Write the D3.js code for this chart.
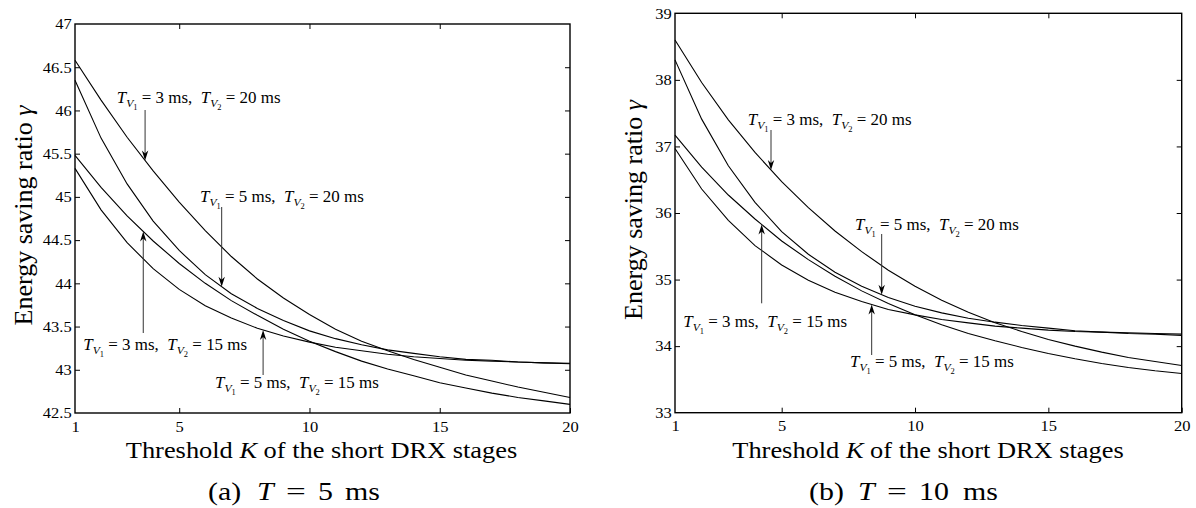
<!DOCTYPE html>
<html><head><meta charset="utf-8">
<script src="https://cdn.jsdelivr.net/npm/d3@7"></script>
<style>
html,body{margin:0;padding:0;background:#fff;}
svg{display:block;}
text{white-space:pre;}
</style></head><body>
<svg id="c" width="1196" height="508"></svg>
<script>
// ---------- data ----------
const K = [1,2,3,4,5,6,7,8,9,10,11,12,13,14,15,16,17,18,19,20];
const xTicks = [1,5,10,15,20];
const yTicksA = [42.5,43,43.5,44,44.5,45,45.5,46,46.5,47];
const yTicksB = [33,34,35,36,37,38,39];

// (a) T = 5 ms
const a_T3_20 = [46.58,46.12,45.69,45.30,44.94,44.61,44.31,44.05,43.83,43.64,43.47,43.33,43.22,43.12,43.03,42.94,42.87,42.80,42.74,42.68];
const a_T5_20 = [46.35,45.68,45.15,44.72,44.38,44.10,43.88,43.71,43.57,43.45,43.36,43.29,43.23,43.19,43.15,43.12,43.11,43.09,43.08,43.07];
const a_T3_15 = [45.48,45.11,44.78,44.49,44.23,44.00,43.80,43.63,43.47,43.33,43.21,43.10,43.01,42.93,42.85,42.79,42.73,42.68,42.64,42.60];
const a_T5_15 = [45.33,44.85,44.47,44.17,43.93,43.74,43.60,43.48,43.39,43.32,43.26,43.22,43.18,43.15,43.13,43.11,43.10,43.09,43.08,43.075];

// (b) T = 10 ms
const b_T3_20 = [38.60,37.96,37.40,36.91,36.47,36.08,35.73,35.42,35.14,34.90,34.69,34.51,34.35,34.22,34.10,34.00,33.91,33.83,33.77,33.71];
const b_T5_20 = [38.30,37.41,36.71,36.16,35.72,35.38,35.11,34.90,34.73,34.60,34.50,34.42,34.36,34.31,34.27,34.23,34.21,34.19,34.18,34.16];
const b_T3_15 = [37.17,36.69,36.27,35.91,35.58,35.30,35.05,34.83,34.64,34.47,34.32,34.19,34.08,33.98,33.89,33.81,33.74,33.68,33.63,33.59];
const b_T5_15 = [36.97,36.36,35.89,35.51,35.22,34.99,34.81,34.67,34.55,34.47,34.40,34.35,34.30,34.27,34.24,34.22,34.21,34.20,34.19,34.18];

const xLabelPre = "Threshold ", xLabelVar = "K", xLabelPost = " of the short DRX stages";
const yLabelText = "Energy saving ratio ", yLabelVar = "γ";
const captionA = ["(a)", "T", "=", "5", "ms"];
const captionB = ["(b)", "T", "=", "10", "ms"];

// ---------- drawing ----------
const SERIF = "'Liberation Serif','Times New Roman',serif";
const SX = 1.1;
const svg = d3.select('#c');

function interp(series, k){
  const i = Math.min(Math.floor(k)-1, series.length-2);
  const f = k - K[i];
  return series[i] + (series[i+1]-series[i])*f;
}

function annotation(g, x, y, v1, v2){
  const t = g.append('text')
    .attr('transform', `translate(${x},${y}) scale(1.06,1)`)
    .attr('font-family', SERIF).attr('font-size', 16).attr('fill','#000');
  const tv = (sub) => {
    t.append('tspan').attr('font-style','italic').text('T');
    t.append('tspan').attr('font-style','italic').attr('font-size',11).attr('dy',4).text('V');
    t.append('tspan').attr('font-size',8).attr('dy',3).text(sub);
  };
  tv('1');
  t.append('tspan').attr('dy',-7).text(` = ${v1} ms,  `);
  tv('2');
  t.append('tspan').attr('dy',-7).text(` = ${v2} ms`);
}

function arrow(g, x, y0, yTip){
  const down = yTip > y0;
  const s = down ? 1 : -1;
  g.append('line').attr('x1',x).attr('x2',x).attr('y1',y0).attr('y2',yTip - s*6)
    .attr('stroke','#333').attr('stroke-width',1);
  g.append('path')
    .attr('d', `M${x},${yTip} L${x-3.2},${yTip - s*10} L${x},${yTip - s*7} L${x+3.2},${yTip - s*10} Z`)
    .attr('fill','#000');
}

function chart(opt){
  const {left,right,top,bottom,yDomain,yTicks,series,annots,xLabelX,yLabelX,yLabelY,caption,capX} = opt;
  const x = d3.scaleLinear().domain([1,20]).range([left,right]);
  const y = d3.scaleLinear().domain(yDomain).range([bottom,top]);
  const g = svg.append('g');

  const styleAxis = (ax) => {
    ax.select('.domain').remove();
    ax.attr('font-family', SERIF).attr('font-size', 15);
    ax.selectAll('.tick line').attr('stroke','#000').attr('stroke-width',1);
  };
  const fmt = d => String(d);

  const bx = g.append('g').attr('transform',`translate(0,${bottom})`)
    .call(d3.axisBottom(x).tickValues(xTicks).tickSizeInner(-5).tickSizeOuter(0).tickPadding(8).tickFormat(fmt));
  styleAxis(bx);
  bx.selectAll('text').attr('fill','#000').attr('transform',`scale(${SX},1)`);
  bx.selectAll('.tick').filter(d => d===1).select('line').remove();

  const tx = g.append('g').attr('transform',`translate(0,${top})`)
    .call(d3.axisTop(x).tickValues(xTicks).tickSizeInner(-5).tickSizeOuter(0).tickFormat(''));
  styleAxis(tx);
  tx.selectAll('.tick').filter(d => d===1 || d===20).select('line').remove();

  const ly = g.append('g').attr('transform',`translate(${left},0)`)
    .call(d3.axisLeft(y).tickValues(yTicks).tickSizeInner(-5).tickSizeOuter(0).tickPadding(3).tickFormat(fmt));
  styleAxis(ly);
  ly.selectAll('text').attr('fill','#000').attr('transform',`scale(${SX},1)`);
  ly.selectAll('.tick').filter(d => d===yDomain[0] || d===yDomain[1]).select('line').remove();

  const ry = g.append('g').attr('transform',`translate(${right},0)`)
    .call(d3.axisRight(y).tickValues(yTicks).tickSizeInner(-5).tickSizeOuter(0).tickFormat(''));
  styleAxis(ry);
  ry.selectAll('.tick').filter(d => d===yDomain[0] || d===yDomain[1]).select('line').remove();

  g.append('rect').attr('x',left).attr('y',top).attr('width',right-left).attr('height',bottom-top)
    .attr('fill','none').attr('stroke','#000').attr('stroke-width',1.4);

  const line = d3.line().x(d=>x(d[0])).y(d=>y(d[1]));
  series.forEach(s => {
    g.append('path').datum(K.map((k,i)=>[k,s[i]])).attr('d',line)
      .attr('fill','none').attr('stroke','#000').attr('stroke-width',1.1);
  });

  annots.forEach(a => {
    annotation(g, a.tx, a.ty, a.v1, a.v2);
    const ax = x(a.k), tip = y(interp(a.s, a.k));
    arrow(g, ax, a.y0, tip);
  });

  // x label
  const xl = g.append('text').attr('transform',`translate(${xLabelX},458) scale(${SX},1)`)
    .attr('text-anchor','middle').attr('font-family',SERIF).attr('font-size',24);
  xl.append('tspan').text(xLabelPre);
  xl.append('tspan').attr('font-style','italic').text(xLabelVar);
  xl.append('tspan').text(xLabelPost);

  // y label
  const yl = g.append('text').attr('transform',`translate(${yLabelX},${yLabelY}) rotate(-90)`)
    .attr('text-anchor','middle').attr('font-family',SERIF).attr('font-size',26);
  yl.append('tspan').text(yLabelText.trimEnd() + ' ');
  yl.append('tspan').attr('font-style','italic').text(yLabelVar);

  // caption: pieces placed at offsets from its left edge
  const offs = caption[3].length > 1 ? [0,49,78,110,154] : [0,49,78,110,137];
  caption.forEach((c,i) => {
    g.append('text').attr('transform',`translate(${capX+offs[i]},500) scale(${i===2?1.35:1.15},1)`)
      .attr('font-family',SERIF).attr('font-size',26)
      .attr('font-style', i===1 ? 'italic' : 'normal').text(c);
  });
}

chart({
  left:75, right:570, top:24, bottom:413,
  yDomain:[42.5,47], yTicks:yTicksA,
  series:[a_T3_20,a_T5_20,a_T3_15,a_T5_15],
  annots:[
    {s:a_T3_20, k:3.69, tx:116.7, ty:103, y0:110, v1:3, v2:20},
    {s:a_T5_20, k:6.63, tx:200, ty:201.7, y0:207, v1:5, v2:20},
    {s:a_T3_15, k:3.62, tx:83.3, ty:350, y0:333, v1:3, v2:15},
    {s:a_T5_15, k:8.22, tx:215, ty:388.3, y0:375, v1:5, v2:15}
  ],
  xLabelX:321.5, yLabelX:32, yLabelY:215.5,
  caption:captionA, capX:208
});

chart({
  left:675, right:1181.7, top:13.3, bottom:412.7,
  yDomain:[33,39], yTicks:yTicksB,
  series:[b_T3_20,b_T5_20,b_T3_15,b_T5_15],
  annots:[
    {s:b_T3_20, k:4.6, tx:747.7, ty:125, y0:130, v1:3, v2:20},
    {s:b_T5_20, k:8.75, tx:855, ty:230, y0:234, v1:5, v2:20},
    {s:b_T3_15, k:4.25, tx:683.3, ty:326.7, y0:303.3, v1:3, v2:15},
    {s:b_T5_15, k:8.375, tx:850, ty:366.7, y0:355, v1:5, v2:15}
  ],
  xLabelX:928, yLabelX:642, yLabelY:210,
  caption:captionB, capX:809
});
</script>
</body></html>
